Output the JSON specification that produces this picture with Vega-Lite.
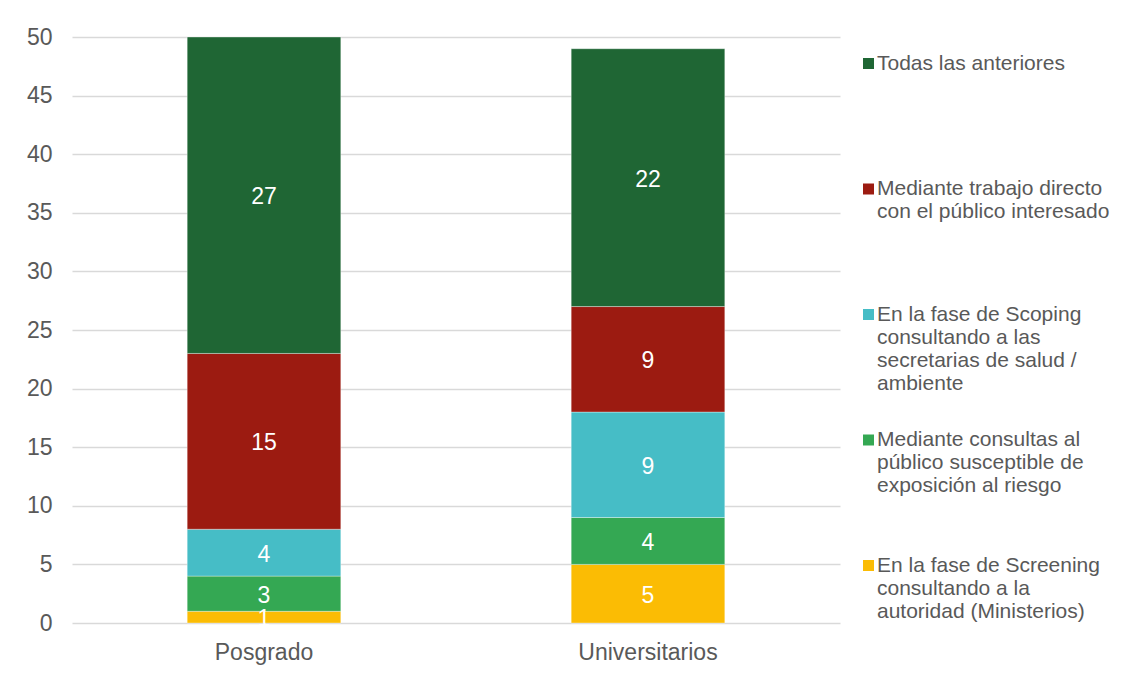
{
  "$schema": "https://vega.github.io/schema/vega-lite/v6.json",
  "width": 768,
  "height": 586,
  "autosize": {"type": "none"},
  "padding": {"left": 72, "top": 37, "right": 294, "bottom": 59},
  "background": "white",
  "config": {"font": "Liberation Sans", "view": {"stroke": null}},
  "data": {
    "values": [
      {"grupo": "Posgrado", "categoria": "En la fase de Screening consultando a la autoridad (Ministerios)", "orden": 1, "valor": 1},
      {"grupo": "Posgrado", "categoria": "Mediante consultas al público susceptible de exposición al riesgo", "orden": 2, "valor": 3},
      {"grupo": "Posgrado", "categoria": "En la fase de Scoping consultando a las secretarias de salud / ambiente", "orden": 3, "valor": 4},
      {"grupo": "Posgrado", "categoria": "Mediante trabajo directo con el público interesado", "orden": 4, "valor": 15},
      {"grupo": "Posgrado", "categoria": "Todas las anteriores", "orden": 5, "valor": 27},
      {"grupo": "Universitarios", "categoria": "En la fase de Screening consultando a la autoridad (Ministerios)", "orden": 1, "valor": 5},
      {"grupo": "Universitarios", "categoria": "Mediante consultas al público susceptible de exposición al riesgo", "orden": 2, "valor": 4},
      {"grupo": "Universitarios", "categoria": "En la fase de Scoping consultando a las secretarias de salud / ambiente", "orden": 3, "valor": 9},
      {"grupo": "Universitarios", "categoria": "Mediante trabajo directo con el público interesado", "orden": 4, "valor": 9},
      {"grupo": "Universitarios", "categoria": "Todas las anteriores", "orden": 5, "valor": 22}
    ]
  },
  "encoding": {
    "x": {
      "field": "grupo",
      "type": "nominal",
      "sort": ["Posgrado", "Universitarios"],
      "scale": {"paddingInner": 0.6, "paddingOuter": 0.3},
      "axis": {
        "title": null,
        "labelAngle": 0,
        "labelFontSize": 23,
        "labelColor": "#595959",
        "labelPadding": 18,
        "ticks": false,
        "tickSize": 0,
        "domain": false,
        "grid": false
      }
    },
    "y": {
      "field": "valor",
      "type": "quantitative",
      "stack": "zero",
      "scale": {"domain": [0, 50], "nice": false},
      "axis": {
        "title": null,
        "values": [0, 5, 10, 15, 20, 25, 30, 35, 40, 45, 50],
        "labelFontSize": 23,
        "labelColor": "#595959",
        "labelPadding": 20,
        "ticks": false,
        "tickSize": 0,
        "domain": false,
        "gridColor": "#d9d9d9",
        "gridWidth": 1.3
      }
    },
    "order": {"field": "orden", "type": "quantitative"}
  },
  "layer": [
    {
      "mark": {"type": "bar", "stroke": "white", "strokeWidth": 0.7, "strokeOpacity": 0.5},
      "encoding": {
        "color": {
          "field": "categoria",
          "type": "nominal",
          "scale": {
            "domain": [
              "En la fase de Screening consultando a la autoridad (Ministerios)",
              "Mediante consultas al público susceptible de exposición al riesgo",
              "En la fase de Scoping consultando a las secretarias de salud / ambiente",
              "Mediante trabajo directo con el público interesado",
              "Todas las anteriores"
            ],
            "range": ["#fbbc04", "#34a853", "#46bdc6", "#9c1b11", "#1f6634"]
          },
          "legend": {
            "orient": "none",
            "legendX": 786,
            "legendY": 16,
            "title": null,
            "padding": 0,
            "values": [
              "Todas las anteriores",
              "Mediante trabajo directo con el público interesado",
              "En la fase de Scoping consultando a las secretarias de salud / ambiente",
              "Mediante consultas al público susceptible de exposición al riesgo",
              "En la fase de Screening consultando a la autoridad (Ministerios)"
            ],
            "symbolType": "square",
            "symbolSize": 121,
            "symbolStrokeWidth": 0,
            "symbolOpacity": 1,
            "labelFontSize": 21,
            "labelColor": "#595959",
            "labelLimit": 400,
            "labelOffset": -2,
            "labelBaseline": "middle",
            "rowPadding": 34.5,
            "labelExpr": "datum.label == 'Todas las anteriores' ? ['Todas las anteriores', '', '', ''] : datum.label == 'Mediante trabajo directo con el público interesado' ? ['Mediante trabajo directo', 'con el público interesado', '', ''] : datum.label == 'En la fase de Scoping consultando a las secretarias de salud / ambiente' ? ['En la fase de Scoping', 'consultando a las', 'secretarias de salud /', 'ambiente'] : datum.label == 'Mediante consultas al público susceptible de exposición al riesgo' ? ['Mediante consultas al', 'público susceptible de', 'exposición al riesgo', ''] : ['En la fase de Screening', 'consultando a la', 'autoridad (Ministerios)', '']",
            "encode": {"labels": {"update": {"lineHeight": {"value": 24}}}}
          }
        }
      }
    },
    {
      "mark": {"type": "text", "color": "white", "fontSize": 23, "baseline": "middle", "align": "center", "dy": 2},
      "encoding": {
        "y": {"field": "valor", "type": "quantitative", "stack": "zero", "bandPosition": 0.5},
        "detail": {"field": "categoria", "type": "nominal"},
        "text": {"field": "valor", "type": "quantitative"}
      }
    }
  ]
}
